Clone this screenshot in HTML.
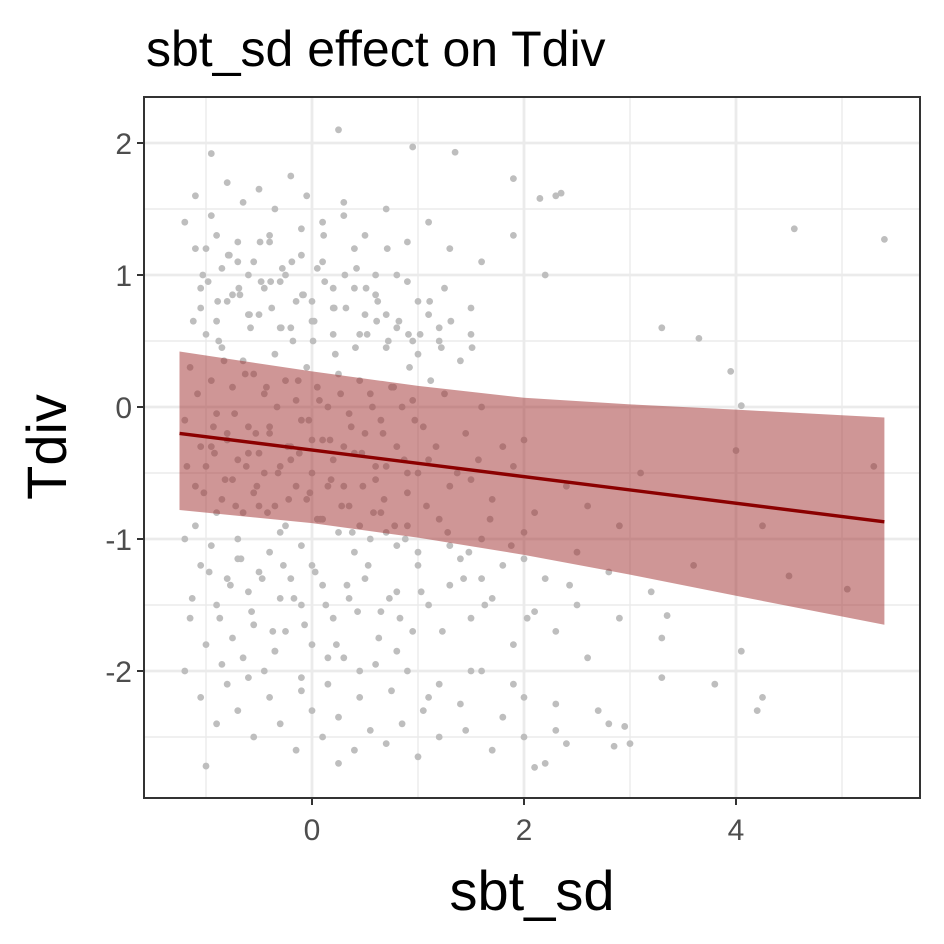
<!DOCTYPE html>
<html><head><meta charset="utf-8"><style>
html,body{margin:0;padding:0;background:#fff;}
svg{display:block;font-family:"Liberation Sans",sans-serif;}
</style></head><body>
<svg id="chart" width="944" height="944" viewBox="0 0 944 944"></svg>
<script>
const xTicks=[0,2,4];
const yTicks=[-2,-1,0,1,2];
const lineX=[-1.25,5.4];
const lineY=[-0.2,-0.87];
const bandX=[-1.25,0,1,2,3,4,5.4];
const bandHi=[0.42,0.27,0.16,0.07,0.02,-0.02,-0.08];
const bandLo=[-0.78,-0.88,-0.99,-1.12,-1.27,-1.43,-1.65];
const ptX=[0.25,0.95,1.35,-0.95,1.9,2.3,2.15,2.35,4.55,5.4,3.3,3.65,3.95,4.05,4.0,4.25,4.5,5.05,5.3,4.05,3.8,4.2,4.25,3.3,3.35,2.95,2.85,2.1,2.2,-1.0,0.25,
-1.2,-1.1,-1.05,-0.9,-0.8,-0.7,-0.6,-0.5,-0.4,-0.3,-0.2,-0.1,0.0,0.1,0.2,0.3,0.4,0.5,0.6,0.7,0.8,0.9,1.0,1.1,1.2,1.4,1.5,
-1.15,-1.0,-0.95,-0.85,-0.75,-0.65,-0.55,-0.45,-0.35,-0.25,-0.15,-0.05,0.05,0.15,0.25,0.35,0.45,0.55,0.65,0.75,0.85,0.95,1.05,1.25,1.45,1.6,1.8,2.0,
-1.2,-1.05,-0.9,-0.8,-0.7,-0.6,-0.5,-0.4,-0.3,-0.2,-0.1,0.0,0.1,0.2,0.3,0.4,0.5,0.6,0.7,0.8,0.9,1.0,1.1,1.3,1.5,1.7,1.9,2.1,2.4,2.6,2.9,3.1,
-1.1,-1.0,-0.85,-0.75,-0.65,-0.55,-0.45,-0.35,-0.25,-0.15,-0.05,0.05,0.15,0.25,0.35,0.45,0.55,0.65,0.8,0.9,1.0,1.2,1.4,1.6,1.8,2.0,2.2,2.5,2.8,3.2,3.6,
-1.2,-1.05,-0.95,-0.8,-0.7,-0.6,-0.5,-0.4,-0.3,-0.2,-0.1,0.0,0.1,0.2,0.35,0.5,0.65,0.8,0.95,1.1,1.3,1.5,1.7,1.9,2.1,2.3,2.6,2.9,3.3,
-1.15,-1.0,-0.9,-0.75,-0.65,-0.55,-0.45,-0.35,-0.25,-0.1,0.0,0.15,0.3,0.45,0.6,0.75,0.9,1.05,1.2,1.4,1.6,1.8,2.0,2.3,2.7,3.0,
-1.2,-1.05,-0.9,-0.8,-0.7,-0.55,-0.4,-0.3,-0.15,0.0,0.1,0.25,0.4,0.55,0.7,0.85,1.0,1.2,1.45,1.7,2.0,2.4,2.8,
-1.1,-0.95,-0.8,-0.65,-0.5,-0.35,-0.2,-0.05,0.1,0.3,0.5,0.7,0.9,1.1,1.3,1.6,1.9,2.2,
-1.0,-0.85,-0.7,-0.55,-0.4,-0.25,-0.1,0.05,0.2,0.4,0.6,0.8,1.0,1.25,1.5,
-1.05,-0.9,-0.75,-0.6,-0.45,-0.3,-0.15,0.0,0.2,0.45,0.7,0.95,1.2,
-0.95,-0.8,-0.6,-0.4,-0.2,0.0,0.3,0.6,0.9,
-1.1,-0.9,-0.7,-0.5,-0.3,-0.1,0.1,0.4,0.7,1.0,1.3,1.6,2.0,2.5,
-0.85,-0.6,-0.35,-0.1,0.15,0.45,0.8,1.1,1.5,1.9,2.3,
-1.12,-0.98,-0.88,-0.78,-0.68,-0.58,-0.48,-0.38,-0.28,-0.18,-0.08,0.02,0.12,0.22,0.32,0.42,0.52,0.62,0.72,0.82,0.92,1.02,1.12,1.22,
-1.08,-0.93,-0.83,-0.73,-0.63,-0.53,-0.43,-0.33,-0.23,-0.13,-0.03,0.07,0.17,0.27,0.37,0.47,0.57,0.67,0.77,0.87,0.97,1.17,1.37,1.57,
-1.18,-1.02,-0.92,-0.82,-0.72,-0.62,-0.52,-0.42,-0.32,-0.22,-0.12,-0.02,0.08,0.18,0.28,0.38,0.48,0.58,0.68,0.78,0.88,1.08,1.28,1.48,1.68,1.88,
-1.13,-0.97,-0.87,-0.77,-0.67,-0.57,-0.47,-0.37,-0.27,-0.17,-0.07,0.03,0.13,0.23,0.33,0.43,0.53,0.63,0.73,0.83,1.03,1.23,1.43,1.63,2.03,2.43,
-1.03,-0.89,-0.79,-0.69,-0.59,-0.49,-0.39,-0.29,-0.19,-0.09,0.01,0.11,0.21,0.31,0.41,0.51,0.61,0.71,0.91,1.11,1.31,1.51];
const ptY=[2.1,1.97,1.93,1.92,1.73,1.6,1.58,1.62,1.35,1.27,0.6,0.52,0.27,0.01,-0.33,-0.9,-1.28,-1.38,-0.45,-1.85,-2.1,-2.3,-2.2,-2.05,-1.58,-2.42,-2.57,-2.73,-2.7,-2.72,-2.7,
1.4,1.2,0.9,1.3,0.8,1.1,1.0,0.7,1.25,0.95,0.6,1.35,0.8,1.1,0.55,1.45,0.9,0.7,1.0,0.45,0.6,0.95,0.4,0.7,0.5,0.35,0.55,
0.3,0.55,0.2,0.45,0.15,0.35,0.25,0.1,0.4,0.2,0.05,0.3,0.15,0.0,0.25,-0.05,0.2,0.1,-0.1,0.15,0.0,0.05,-0.15,0.1,-0.2,0.0,-0.3,-0.25,
-0.1,-0.3,-0.05,-0.25,-0.4,-0.15,-0.35,-0.2,-0.45,-0.3,-0.1,-0.5,-0.25,-0.4,-0.6,-0.35,-0.2,-0.55,-0.45,-0.3,-0.65,-0.5,-0.4,-0.6,-0.55,-0.7,-0.45,-0.8,-0.6,-0.75,-0.9,-0.5,
-0.6,-0.45,-0.7,-0.55,-0.8,-0.65,-0.5,-0.75,-0.9,-0.6,-0.7,-0.85,-0.6,-0.95,-0.75,-0.9,-1.0,-0.8,-1.05,-0.9,-1.1,-0.85,-1.15,-1.0,-1.2,-0.95,-1.3,-1.1,-1.25,-1.4,-1.2,
-1.0,-1.2,-1.05,-1.3,-1.15,-1.4,-1.25,-1.1,-1.45,-1.3,-1.5,-1.2,-1.35,-1.6,-1.45,-1.3,-1.55,-1.4,-1.7,-1.5,-1.35,-1.6,-1.45,-1.8,-1.55,-1.7,-1.9,-1.6,-1.75,
-1.6,-1.8,-1.5,-1.75,-1.9,-1.65,-2.0,-1.85,-1.7,-2.05,-1.8,-2.1,-1.9,-2.2,-1.95,-2.15,-2.0,-2.3,-2.1,-2.25,-2.0,-2.35,-2.2,-2.45,-2.3,-2.55,
-2.0,-2.2,-2.4,-2.1,-2.3,-2.5,-2.2,-2.4,-2.6,-2.3,-2.5,-2.35,-2.6,-2.45,-2.55,-2.4,-2.65,-2.5,-2.45,-2.6,-2.5,-2.55,-2.4,
1.6,1.45,1.7,1.55,1.65,1.5,1.75,1.6,1.4,1.55,1.3,1.5,1.25,1.4,1.2,1.1,1.3,1.0,
1.2,1.05,1.25,1.1,1.3,1.0,1.15,1.05,0.9,1.2,0.85,1.0,0.8,0.9,0.75,
0.75,0.65,0.85,0.7,0.9,0.6,0.8,0.65,0.75,0.55,0.7,0.5,0.6,
-0.3,-0.2,-0.35,-0.15,-0.4,-0.25,-0.3,-0.45,-0.5,
-0.9,-0.8,-1.0,-0.75,-0.95,-1.05,-0.85,-1.1,-0.95,-1.2,-1.05,-1.3,-1.15,-1.5,
-1.95,-2.05,-1.85,-2.15,-1.9,-2.0,-1.85,-2.2,-2.0,-2.1,-2.25,
0.65,0.95,0.5,1.15,0.85,0.6,0.95,0.75,1.05,0.5,0.85,0.65,0.95,0.4,0.75,1.05,0.55,0.8,0.5,0.65,0.3,0.55,0.2,0.45,
0.1,-0.15,0.35,-0.05,0.25,-0.2,0.15,0.0,-0.3,0.2,-0.1,0.05,-0.25,0.1,-0.15,-0.35,0.0,-0.2,0.15,-0.4,-0.1,-0.3,-0.5,-0.4,
-0.45,-0.65,-0.35,-0.55,-0.75,-0.45,-0.6,-0.8,-0.5,-0.7,-0.35,-0.65,-0.85,-0.55,-0.75,-0.95,-0.6,-0.8,-0.7,-0.9,-1.0,-0.75,-0.95,-1.1,-0.85,-1.05,
-1.45,-1.25,-1.6,-1.35,-1.15,-1.55,-1.3,-1.7,-1.2,-1.45,-1.65,-1.25,-1.5,-1.8,-1.35,-1.55,-1.2,-1.75,-1.45,-1.6,-1.4,-1.7,-1.3,-1.5,-1.6,-1.35,
1.0,0.8,1.15,0.9,0.7,1.25,0.95,0.6,1.1,0.85,0.5,1.3,0.75,1.0,0.45,0.9,0.65,1.2,0.55,0.8,0.65,0.45];
const svg=document.getElementById('chart');
const NS='http://www.w3.org/2000/svg';
const L=144,R=920,T=97,B=798;
function sx(v){return 312+v*106;}
function sy(v){return 407-v*132;}
function mk(tag,attrs,parent){const e=document.createElementNS(NS,tag);for(const k in attrs)e.setAttribute(k,attrs[k]);(parent||svg).appendChild(e);return e;}
const grid=mk('g',{});


const minorX=[-1,1,3,5],minorY=[-2.5,-1.5,-0.5,0.5,1.5];
minorX.forEach(v=>mk('line',{x1:sx(v),x2:sx(v),y1:T,y2:B,stroke:'#ebebeb','stroke-width':1.4},grid));
minorY.forEach(v=>mk('line',{x1:L,x2:R,y1:sy(v),y2:sy(v),stroke:'#ebebeb','stroke-width':1.4},grid));
xTicks.forEach(v=>mk('line',{x1:sx(v),x2:sx(v),y1:T,y2:B,stroke:'#ebebeb','stroke-width':2.8},grid));
yTicks.forEach(v=>mk('line',{x1:L,x2:R,y1:sy(v),y2:sy(v),stroke:'#ebebeb','stroke-width':2.8},grid));
const pts=mk('g',{fill:'#bebebe'});


for(let i=0;i<ptX.length;i++){
  const c=mk('circle',{cx:sx(ptX[i]),cy:sy(ptY[i]),r:3.4},pts);
  
  
}
let d='';
bandX.forEach((v,i)=>{d+=(i?'L':'M')+sx(v)+','+sy(bandHi[i]);});
for(let i=bandX.length-1;i>=0;i--)d+='L'+sx(bandX[i])+','+sy(bandLo[i]);
const band=mk('path',{d:d+'Z',fill:'rgb(160,45,45)','fill-opacity':0.5});


const ln=mk('line',{x1:sx(lineX[0]),y1:sy(lineY[0]),x2:sx(lineX[1]),y2:sy(lineY[1]),stroke:'#8b0000','stroke-width':3.4});


const fr=mk('rect',{x:L,y:T,width:R-L,height:B-T,fill:'none',stroke:'#333','stroke-width':2});


xTicks.forEach(v=>{
  mk('line',{x1:sx(v),x2:sx(v),y1:B,y2:B+7,stroke:'#333','stroke-width':2});
  const t=mk('text',{x:sx(v),y:B+42,'text-anchor':'middle','font-size':30,fill:'#4d4d4d'});
  t.textContent=v;
  
  
});
yTicks.forEach(v=>{
  mk('line',{x1:L-7,x2:L,y1:sy(v),y2:sy(v),stroke:'#333','stroke-width':2});
  const t=mk('text',{x:L-12,y:sy(v)+11,'text-anchor':'end','font-size':30,fill:'#4d4d4d'});
  t.textContent=v;
  
  
});
const xt=mk('text',{x:532,y:910,'text-anchor':'middle','font-size':56,fill:'#000'});
xt.textContent='sbt_sd';


const yt=mk('text',{x:0,y:0,'text-anchor':'middle','font-size':56,fill:'#000',transform:'translate(66,447) rotate(-90)'});
yt.textContent='Tdiv';


const tt=mk('text',{x:146,y:66,'font-size':50,fill:'#000'});
tt.textContent='sbt_sd effect on Tdiv';


</script>
</body></html>
